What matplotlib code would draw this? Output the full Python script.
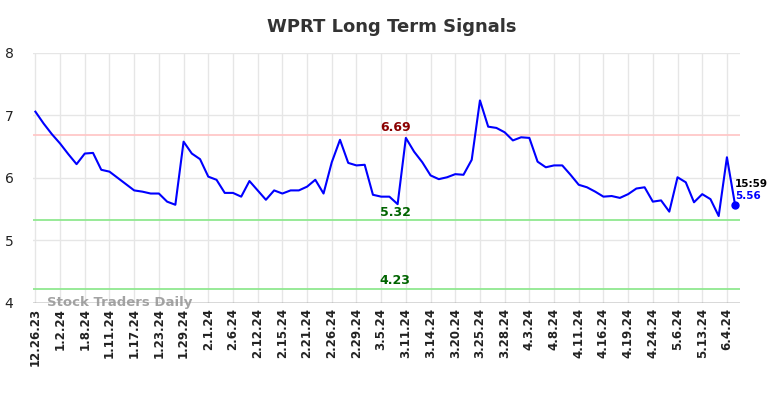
import matplotlib
matplotlib.use("Agg")
import matplotlib.pyplot as plt

# closing prices, one per session
prices = [7.06, 6.87, 6.70, 6.55, 6.38, 6.22, 6.39, 6.40, 6.13, 6.10,
          6.00, 5.90, 5.80, 5.78, 5.75, 5.75, 5.62, 5.57, 6.58, 6.39,
          6.30, 6.02, 5.97, 5.76, 5.76, 5.70, 5.95, 5.80, 5.65, 5.80,
          5.75, 5.80, 5.80, 5.86, 5.97, 5.75, 6.25, 6.61, 6.24, 6.20,
          6.21, 5.73, 5.70, 5.70, 5.58, 6.64, 6.42, 6.25, 6.04, 5.98,
          6.01, 6.06, 6.05, 6.29, 7.24, 6.82, 6.80, 6.73, 6.60, 6.65,
          6.64, 6.26, 6.17, 6.20, 6.20, 6.05, 5.89, 5.85, 5.78, 5.70,
          5.71, 5.68, 5.74, 5.83, 5.85, 5.62, 5.64, 5.46, 6.01, 5.93,
          5.61, 5.74, 5.66, 5.39, 6.33, 5.56]

tick_labels = ["12.26.23", "1.2.24", "1.8.24", "1.11.24", "1.17.24", "1.23.24",
               "1.29.24", "2.1.24", "2.6.24", "2.12.24", "2.15.24", "2.21.24",
               "2.26.24", "2.29.24", "3.5.24", "3.11.24", "3.14.24", "3.20.24",
               "3.25.24", "3.28.24", "4.3.24", "4.8.24", "4.11.24", "4.16.24",
               "4.19.24", "4.24.24", "5.6.24", "5.13.24", "6.4.24"]

resistance = 6.69
supports = [5.32, 4.23]
last_time = "15:59"

x = list(range(len(prices)))
tick_pos = x[::3]

fig = plt.figure(figsize=(7.84, 3.98), dpi=100)
ax = fig.add_axes([0.042, 0.239, 0.902, 0.628])

ax.grid(True, color="#e6e6e6", linewidth=1)
ax.set_axisbelow(True)

ax.axhline(resistance, color="#ffc8c8", linewidth=1.3)
for s in supports:
    ax.axhline(s, color="#90e890", linewidth=1.3)

ax.plot(x, prices, color="blue", linewidth=1.5)
ax.plot(x[-1], prices[-1], "o", color="blue", markersize=5)

mid = 43.7
ax.text(mid, resistance + 0.02, f"{resistance:.2f}", color="darkred",
        fontsize=9, fontweight="bold", ha="center", va="bottom")
for s in supports:
    ax.text(mid, s + 0.02, f"{s:.2f}", color="darkgreen",
            fontsize=9, fontweight="bold", ha="center", va="bottom")

ax.text(x[-1], prices[-1] + 0.35, last_time, color="black", fontsize=7.5,
        fontweight="bold", ha="left", va="center")
ax.text(x[-1], prices[-1] + 0.15, f"{prices[-1]:.2f}", color="blue",
        fontsize=7.5, fontweight="bold", ha="left", va="center")

ax.text(1.4, 4.0, "Stock Traders Daily", color="#999999", fontsize=9.5,
        fontweight="bold", ha="left", va="center", alpha=0.9)

ax.axhline(4, color="#555555", linewidth=1)

ax.set_xlim(-0.3, 85.6)
ax.set_ylim(4, 8)
ax.set_yticks([4, 5, 6, 7, 8])
ax.set_xticks(tick_pos)
ax.set_xticklabels(tick_labels, rotation=90, fontsize=8.5, fontweight="bold")
ax.tick_params(axis="both", length=0, colors="#222222")
ax.tick_params(axis="y", labelsize=10, pad=14)
for sp in ax.spines.values():
    sp.set_visible(False)

fig.text(0.5, 0.932, "WPRT Long Term Signals", ha="center", va="center",
         fontsize=13, fontweight="bold", color="#333333")

fig.savefig("out.png", dpi=100)
